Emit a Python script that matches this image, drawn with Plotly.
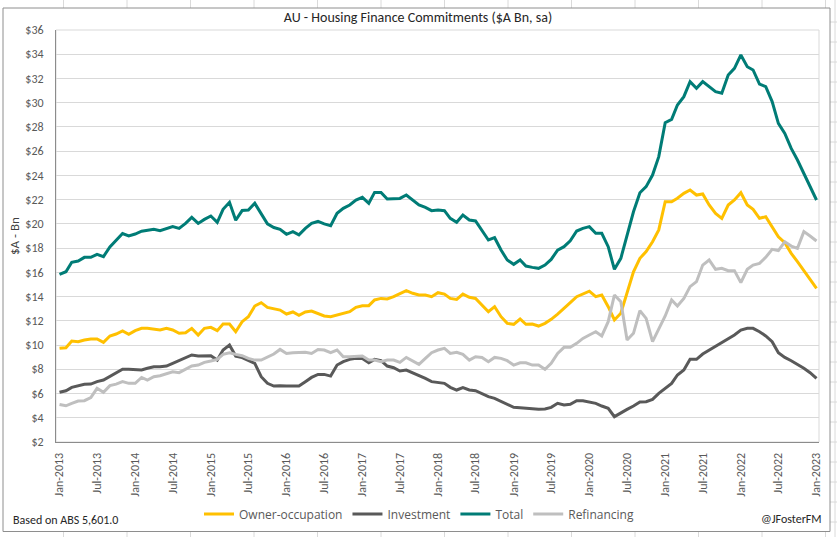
import plotly.graph_objects as go
import pandas as pd

# ---------------- data ----------------
months = pd.date_range("2013-01-01", "2023-01-01", freq="MS")
tick_months = months[::6]

owner_occupation = [
    9.73, 9.78, 10.33, 10.28, 10.42, 10.50, 10.50, 10.22, 10.75, 10.91,
    11.16, 10.88, 11.19, 11.38, 11.38, 11.30, 11.24, 11.38, 11.24, 10.97,
    11.02, 11.38, 10.83, 11.38, 11.46, 11.19, 11.74, 11.74, 11.10, 11.93,
    12.34, 13.22, 13.50, 13.11, 13.00, 12.89, 12.56, 12.73, 12.45, 12.73,
    12.81, 12.62, 12.40, 12.34, 12.48, 12.62, 12.75, 13.11, 13.25, 13.25,
    13.72, 13.85, 13.80, 13.99, 14.27, 14.49, 14.27, 14.13, 14.13, 13.99,
    14.32, 14.21, 13.85, 13.77, 14.21, 13.94, 13.85, 13.30, 12.75, 13.17,
    12.34, 11.79, 11.71, 12.15, 11.71, 11.74, 11.57, 11.79, 12.12, 12.56,
    13.00, 13.50, 13.99, 14.21, 14.45, 13.99, 14.13, 13.17, 12.07, 12.62,
    14.27, 16.05, 17.16, 17.71, 18.53, 19.50, 21.83, 21.83, 22.11, 22.52,
    22.80, 22.38, 22.47, 21.56, 20.87, 20.46, 21.56, 21.97, 22.57, 21.56,
    21.20, 20.46, 20.59, 19.77, 18.94, 18.45, 17.57, 16.88, 16.14, 15.37,
    14.68,
]

investment = [
    6.10, 6.23, 6.51, 6.62, 6.76, 6.78, 6.98, 7.11, 7.39, 7.72,
    8.00, 8.00, 8.00, 7.94, 8.08, 8.21, 8.21, 8.27, 8.49, 8.71,
    8.90, 9.18, 9.09, 9.09, 9.12, 8.76, 9.59, 10.00, 9.09, 8.96,
    8.76, 8.49, 7.39, 6.84, 6.62, 6.65, 6.62, 6.62, 6.62, 6.98,
    7.33, 7.58, 7.58, 7.44, 8.35, 8.63, 8.82, 8.90, 8.90, 8.54,
    8.82, 8.71, 8.27, 8.13, 7.86, 7.94, 7.72, 7.44, 7.25, 6.98,
    6.89, 6.84, 6.51, 6.29, 6.48, 6.29, 6.23, 5.96, 5.74, 5.60,
    5.33, 5.11, 4.86, 4.83, 4.78, 4.70, 4.70, 4.72, 4.86, 5.19,
    5.05, 5.11, 5.41, 5.41, 5.30, 5.19, 4.97, 4.78, 4.09, 4.36,
    4.69, 4.97, 5.30, 5.33, 5.52, 6.01, 6.43, 6.84, 7.53, 7.94,
    8.82, 8.82, 9.26, 9.59, 9.92, 10.20, 10.55, 10.83, 11.24, 11.38,
    11.38, 11.10, 10.75, 10.28, 9.37, 8.98, 8.71, 8.41, 8.08, 7.72,
    7.25,
]

total = [
    15.83, 16.05, 16.83, 16.94, 17.24, 17.24, 17.49, 17.30, 18.10, 18.65,
    19.20, 19.00, 19.16, 19.40, 19.50, 19.55, 19.44, 19.60, 19.77, 19.63,
    20.04, 20.54, 20.04, 20.37, 20.65, 20.13, 21.20, 21.78, 20.30, 21.10,
    21.14, 21.70, 20.87, 20.00, 19.70, 19.55, 19.14, 19.36, 19.10, 19.63,
    20.04, 20.20, 20.00, 19.85, 20.87, 21.28, 21.56, 21.97, 22.19, 21.70,
    22.60, 22.60, 22.05, 22.05, 22.10, 22.38, 21.97, 21.56, 21.36, 21.09,
    21.14, 21.09, 20.46, 20.13, 20.73, 20.32, 20.24, 19.50, 18.67, 18.86,
    17.84, 17.02, 16.66, 17.02, 16.52, 16.41, 16.33, 16.60, 17.07, 17.84,
    18.12, 18.61, 19.41, 19.63, 19.77, 19.22, 19.22, 18.12, 16.25, 17.16,
    19.00, 21.00, 22.57, 23.07, 24.03, 25.55, 28.35, 28.63, 29.81, 30.50,
    31.74, 31.19, 31.74, 31.33, 30.91, 30.78, 32.29, 32.84, 33.94, 32.97,
    32.70, 31.54, 31.33, 30.09, 28.30, 27.47, 26.23, 25.27, 24.17, 23.07,
    21.97,
]

refinancing = [
    5.10, 4.99, 5.19, 5.38, 5.41, 5.66, 6.43, 6.10, 6.65, 6.78,
    6.98, 6.84, 6.84, 7.33, 7.11, 7.39, 7.47, 7.61, 7.80, 7.72,
    8.00, 8.27, 8.35, 8.57, 8.68, 8.82, 9.23, 9.37, 9.23, 9.12,
    8.90, 8.76, 8.76, 9.04, 9.26, 9.64, 9.31, 9.37, 9.40, 9.40,
    9.31, 9.64, 9.59, 9.37, 9.59, 9.04, 9.04, 9.04, 9.09, 8.76,
    8.76, 8.63, 8.76, 8.76, 8.57, 8.98, 8.71, 8.41, 8.90, 9.37,
    9.59, 9.73, 9.31, 9.40, 9.23, 8.76, 9.04, 8.98, 8.63, 8.98,
    8.90, 8.71, 8.35, 8.54, 8.54, 8.35, 8.35, 8.00, 8.49, 9.31,
    9.81, 9.81, 10.14, 10.55, 10.83, 11.10, 10.75, 11.93, 14.13, 13.58,
    10.42, 10.97, 12.84, 12.20, 10.28, 11.38, 12.40, 13.72, 13.22, 13.85,
    14.82, 15.23, 16.60, 17.02, 16.25, 16.33, 16.14, 16.14, 15.15, 16.25,
    16.60, 16.74, 17.24, 17.90, 17.79, 18.53, 18.17, 17.98, 19.36, 19.00,
    18.59,
]

series_names = ["Owner-occupation", "Investment", "Total", "Refinancing"]
series_values = [owner_occupation, investment, total, refinancing]
series_colors = ["#FFC000", "#595959", "#007C76", "#BFBFBF"]

# ---------------- layout constants ----------------
W, H = 837, 537
PL, PR, PT, PB = 56, 819, 30, 442  # plot area in pixels
FONT = "Carlito, 'Liberation Sans Narrow', 'Arial Narrow', 'Liberation Sans', sans-serif"
LEGEND_FONT = "'Open Sans', 'Noto Sans', sans-serif"


def px_x(p):
    return (p - PL) / (PR - PL)


def px_y(p):
    return (PB - p) / (PB - PT)


fig = go.Figure()
for name, vals, col in zip(series_names, series_values, series_colors):
    fig.add_trace(go.Scatter(
        x=months, y=vals, mode="lines", name=name,
        line=dict(color=col, width=3),
    ))

shapes = []
grid_col = "#DADADA"
# spreadsheet cells around the chart object
for k in range(1, 14):
    cx = 63.5 * k
    shapes.append(dict(type="line", xref="paper", yref="paper",
                       x0=px_x(cx), x1=px_x(cx), y0=px_y(0), y1=px_y(8),
                       line=dict(color=grid_col, width=1), layer="below"))
    shapes.append(dict(type="line", xref="paper", yref="paper",
                       x0=px_x(cx), x1=px_x(cx), y0=px_y(532), y1=px_y(H),
                       line=dict(color=grid_col, width=1), layer="below"))
for cy in range(22, H, 20):
    shapes.append(dict(type="line", xref="paper", yref="paper",
                       x0=px_x(830), x1=px_x(W), y0=px_y(cy), y1=px_y(cy),
                       line=dict(color=grid_col, width=1), layer="below"))
shapes.append(dict(type="line", xref="paper", yref="paper",
                   x0=px_x(835), x1=px_x(835), y0=px_y(0), y1=px_y(H),
                   line=dict(color=grid_col, width=1), layer="below"))
# chart object border
shapes.append(dict(type="rect", xref="paper", yref="paper",
                   x0=px_x(3), x1=px_x(830), y0=px_y(8), y1=px_y(531.5),
                   line=dict(color="#8E8E8E", width=1), layer="below"))
# plot area border
shapes.append(dict(type="rect", xref="paper", yref="paper",
                   x0=0, x1=1, y0=0, y1=1,
                   line=dict(color="#D9D9D9", width=1), layer="below"))

annotations = [
    dict(text="$A - Bn", textangle=-90, xref="paper", yref="paper",
         x=px_x(14), y=0.5, xanchor="center", yanchor="middle",
         showarrow=False, font=dict(family=FONT, size=13, color="#404040")),
    dict(text="Based on ABS 5,601.0", xref="paper", yref="paper",
         x=px_x(11), y=px_y(520), xanchor="left", yanchor="middle",
         showarrow=False, font=dict(family=FONT, size=12, color="#262626")),
    dict(text="@JFosterFM", xref="paper", yref="paper",
         x=px_x(824), y=px_y(519), xanchor="right", yanchor="middle",
         showarrow=False, font=dict(family=FONT, size=12, color="#262626")),
]

fig.update_layout(
    width=W, height=H,
    margin=dict(l=PL, r=W - PR, t=PT, b=H - PB, pad=0),
    paper_bgcolor="white", plot_bgcolor="white",
    font=dict(family=FONT, size=12, color="#595959"),
    title=dict(text="AU - Housing Finance Commitments ($A Bn, sa)",
               xref="container", yref="container",
               x=418 / W, y=1 - 17 / H, xanchor="center", yanchor="middle",
               font=dict(family=FONT, size=14, color="#262626")),
    xaxis=dict(type="date", range=["2012-12-15", "2023-01-13"],
               tickvals=list(tick_months), tickformat="%b-%Y",
               tickangle=-90, showgrid=False, zeroline=False,
               showline=True, linecolor="#8C8C8C", linewidth=1,
               ticks="", ticklabelstandoff=5, automargin=False,
               tickfont=dict(family=FONT, size=12, color="#595959")),
    yaxis=dict(range=[2, 36], tick0=2, dtick=2, tickprefix="$",
               showgrid=True, gridcolor="#D9D9D9", gridwidth=1,
               zeroline=False, showline=True, linecolor="#8C8C8C",
               linewidth=1, ticks="", ticklabelstandoff=9, automargin=False,
               tickfont=dict(family=FONT, size=12, color="#595959")),
    legend=dict(orientation="h", xref="container", yref="container",
                x=419 / W, y=1 - 514 / H, xanchor="center", yanchor="middle",
                font=dict(family=LEGEND_FONT, size=12, color="#595959"),
                itemwidth=30, bgcolor="rgba(0,0,0,0)"),
    shapes=shapes,
    annotations=annotations,
    showlegend=True,
)

fig.write_html(
    "out.html",
    config={"displayModeBar": False},
    post_script="document.body.style.margin='0';document.body.style.overflow='hidden';",
)
